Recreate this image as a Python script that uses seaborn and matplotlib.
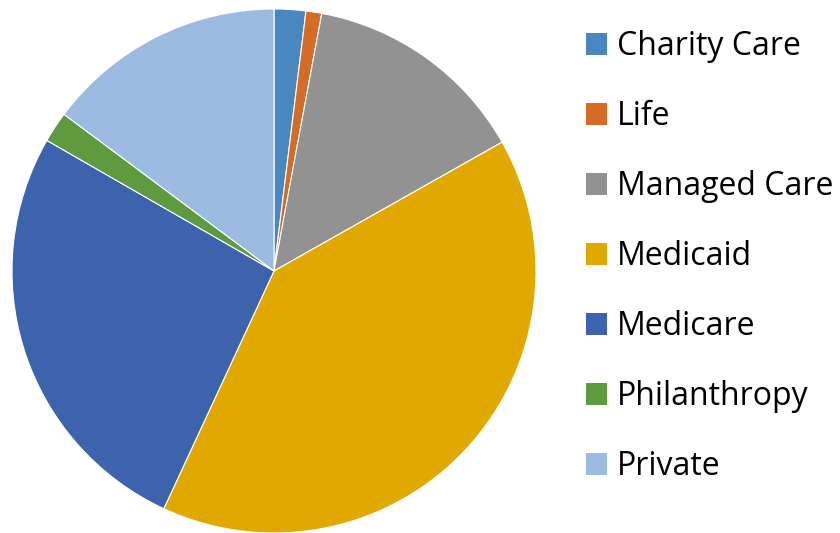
import matplotlib.pyplot as plt
from matplotlib.patches import Patch
import seaborn as sns

# dati (quote percentuali)
categorie = ["Charity Care", "Life", "Managed Care", "Medicaid",
             "Medicare", "Philanthropy", "Private"]
quote = [1.95, 0.97, 13.9, 40.1, 26.4, 1.9, 14.8]
colori = ["#4A86BF", "#D46B26", "#929292", "#E1A900",
          "#3D63AD", "#5F9A3E", "#9BBBE0"]

sns.set_style("white")
plt.rcParams["font.family"] = ["Open Sans", "DejaVu Sans"]

fig = plt.figure(figsize=(8.4, 5.33), dpi=100)
ax = fig.add_axes([12 / 840, 0.0, 524 / 840, 524 / 533])

ax.pie(
    quote,
    colors=colori,
    startangle=90,
    counterclock=False,
    radius=1,
    wedgeprops={"edgecolor": "white", "linewidth": 0.8},
)
ax.set_xlim(-1, 1)
ax.set_ylim(-1, 1)
ax.set_aspect("equal")

# legenda con quadratini a destra
maniglie = [Patch(facecolor=c, edgecolor="none") for c in colori]
leg = fig.legend(
    maniglie, categorie,
    loc="upper left",
    bbox_to_anchor=(586 / 840, 1 - 30 / 533),
    frameon=False,
    fontsize=23,
    handlelength=0.66,
    handleheight=0.66,
    handletextpad=0.31,
    labelspacing=1.16,
    borderaxespad=0,
    borderpad=0,
)
for t in leg.get_texts():
    t.set_color("black")

fig.savefig("out.png", dpi=100)
